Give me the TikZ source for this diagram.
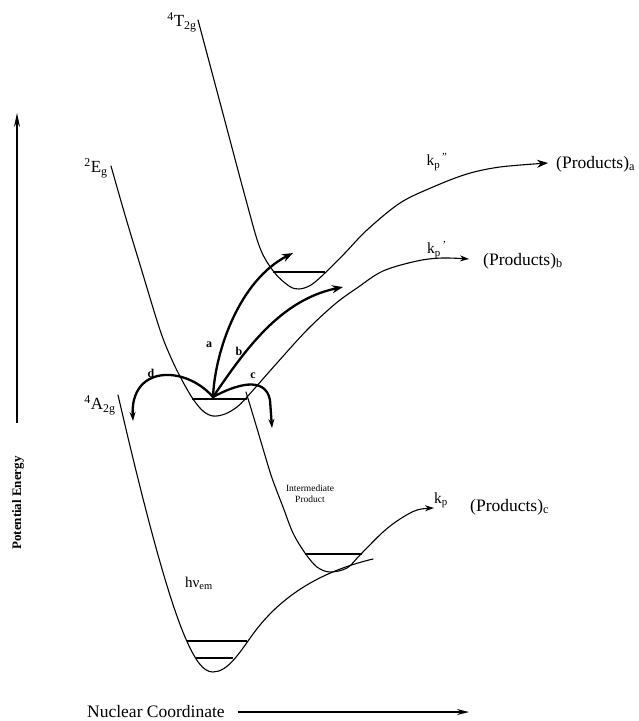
\documentclass[tikz,border=0pt]{standalone}
\usepackage{fontspec}
\setmainfont{Liberation Serif}
\usetikzlibrary{arrows.meta}
\begin{document}
\begin{tikzpicture}[x=1pt,y=-1pt,
  curve/.style={line width=1.1pt, line join=round, line cap=round},
  level/.style={line width=1.1pt},
  thk/.style={line width=2.3pt, line cap=round},
  tipA/.style={-{Stealth[length=11pt,width=8pt]}},
  tipS/.style={-{Stealth[length=9pt,width=6pt]}},
  axis/.style={line width=1.1pt},
  stxt/.style={font=\fontsize{17}{18}\selectfont, inner sep=0pt},
  ptxt/.style={font=\fontsize{17.5}{18}\selectfont, inner sep=0pt, anchor=west},
  ktxt/.style={font=\fontsize{15.5}{16}\selectfont, inner sep=0pt},
  ltr/.style={font=\fontsize{12}{12}\selectfont\bfseries, inner sep=0pt}]
\useasboundingbox (0,0) rectangle (638,721);

% axes
\coordinate (y0) at (17,423);
\coordinate (y1) at (17,113);
\draw[axis, -{Stealth[length=14pt,width=6pt]}] (y0) -- (y1);
\node[rotate=90, inner sep=0pt, font=\fontsize{13}{13}\selectfont\bfseries] (pe) at (18,503) {Potential Energy};
\node[ptxt] (nc) at (87,712) {Nuclear Coordinate};
\coordinate (xend) at (469,712);
\draw[axis, -{Stealth[length=12pt,width=6pt]}] ([xshift=13pt]nc.east) -- (xend);

% 4T2g curve -> (Products)a
\draw[curve, tipA] plot[smooth, tension=0.55] coordinates {(198,20) (222,110) (246,200) (260,248) (274,272) (289,286) (299,289) (311,285) (325,273) (345,253) (367,230) (400,203) (433,187) (467,174) (500,167) (548,163)};
\draw[level] (273,272) -- (325,272);

% 2Eg curve -> (Products)b
\draw[curve, tipS] plot[smooth, tension=0.55] coordinates {(111,166) (125,215) (141,268) (160,330) (172,360) (183,382) (193,399) (203,411) (213,416) (225,414) (237,407) (247,397) (277,363) (307,330) (335,304) (357,288) (383,271) (417,261) (442,258) (469,259)};
\draw[line width=2.2pt] (192,399) -- (247,399);

% intermediate product curve -> (Products)c
\draw[curve, tipS] plot[smooth, tension=0.55] coordinates {(246,392) (256,425) (264,452) (272,478) (283,507) (293,533) (305,553) (317,567) (330,572) (347,568) (360,555) (383,532) (400,519) (417,510) (434,508)};
\draw[level] (305,554) -- (362,554);

% 4A2g ground curve
\draw[curve] (118,395) .. controls (140,490) and (165,590) .. (185,637)
  .. controls (195,660) and (203,672) .. (213,672)
  .. controls (228,672) and (240,652) .. (253,634)
  .. controls (275,604) and (310,574) .. (373,559);
\draw[level] (187,641) -- (247,641);
\draw[level] (196,658) -- (233,658);

% pathways from 2Eg well
\coordinate (ctr) at (213,397);
\draw[thk, tipA] (ctr) .. controls (215,350) and (240,280) .. (293,253);
\draw[thk, tipA] (ctr) .. controls (245,350) and (280,300) .. (343,287);
\draw[thk, tipS] (ctr) .. controls (235,385) and (265,375) .. (270,400) -- (272,428);
\draw[thk, tipS] (ctr) .. controls (185,365) and (130,365) .. (133,421);

% letters
\node[ltr] (la) at (209,345) {a};
\node[ltr] (lb) at (239,351) {b};
\node[ltr] (lc) at (253,376) {c};
\node[ltr] (ld) at (151,373) {d};

% state labels
\node[stxt] (T2g) at (182,22) {\textsuperscript{4}T\textsubscript{2g}};
\node[stxt] (Eg) at (96,168) {\textsuperscript{2}E\textsubscript{g}};
\node[stxt] (A2g) at (100,405) {\textsuperscript{4}A\textsubscript{2g}};

% rate constants and products
\node[ktxt] (kpp) at (437,162) {k\textsubscript{p}\textsuperscript{\,''}};
\node[ktxt] (kp1) at (437,250) {k\textsubscript{p}\textsuperscript{\,'}};
\node[ktxt] (kp) at (441,500) {k\textsubscript{p}};
\node[ptxt] (Pa) at (556,164) {(Products)\textsubscript{a}};
\node[ptxt] (Pb) at (483,261) {(Products)\textsubscript{b}};
\node[ptxt] (Pc) at (470,507) {(Products)\textsubscript{c}};

\node[inner sep=0pt, align=center, font=\fontsize{9.5}{11}\selectfont] (ip) at (310,494) {Intermediate\\Product};
\node[inner sep=0pt, font=\fontsize{15}{16}\selectfont] (hv) at (199,583) {hν\textsubscript{em}};
\end{tikzpicture}
\end{document}
